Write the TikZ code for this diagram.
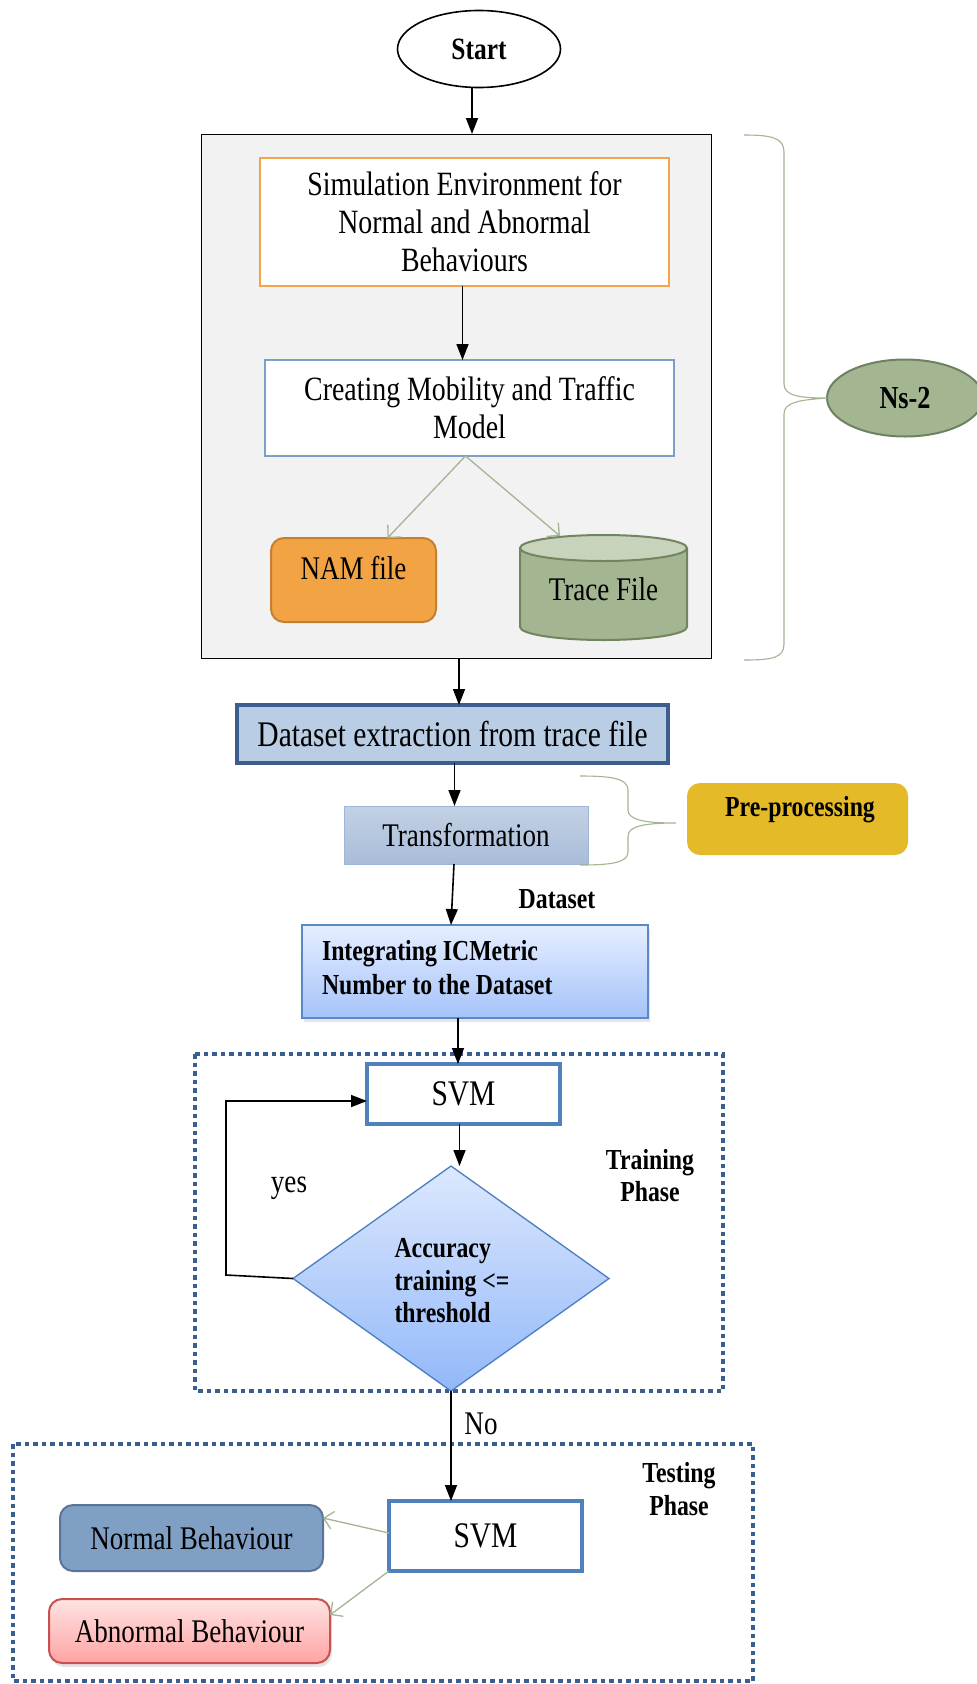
\documentclass[tikz,border=0pt]{standalone}
\usepackage{fontspec}
\setmainfont{Liberation Serif}[FakeStretch=0.82]
\usetikzlibrary{arrows.meta,shapes.geometric,shadows}
\definecolor{grayF}{HTML}{F2F2F2}
\definecolor{orangeB}{HTML}{F6A44B}
\definecolor{lblueB}{HTML}{7E9DC9}
\definecolor{greenL}{HTML}{A3B592}
\definecolor{namF}{HTML}{F2A444}
\definecolor{namB}{HTML}{C47F33}
\definecolor{trF}{HTML}{A4B592}
\definecolor{trTop}{HTML}{C8D3BC}
\definecolor{trB}{HTML}{72855F}
\definecolor{nsF}{HTML}{A4B592}
\definecolor{nsB}{HTML}{6E8262}
\definecolor{dsF}{HTML}{B9CDE5}
\definecolor{dsB}{HTML}{3C5E8E}
\definecolor{transT}{HTML}{C3D1E4}
\definecolor{transBo}{HTML}{A9BCD8}
\definecolor{transB}{HTML}{9DB5D6}
\definecolor{ppF}{HTML}{E5BA29}
\definecolor{integT}{HTML}{E6EEFF}
\definecolor{integBo}{HTML}{A5C3FA}
\definecolor{integB}{HTML}{5B88C6}
\definecolor{dashC}{HTML}{3A5F8F}
\definecolor{svmB}{HTML}{4F81BD}
\definecolor{diaT}{HTML}{DDE8FE}
\definecolor{diaBo}{HTML}{92B8F9}
\definecolor{diaB}{HTML}{4A7EC0}
\definecolor{normF}{HTML}{7F9FC5}
\definecolor{normB}{HTML}{5A7599}
\definecolor{abnT}{HTML}{FFE3E3}
\definecolor{abnBo}{HTML}{FFA3A3}
\definecolor{abnB}{HTML}{C9504E}
\newcommand{\fR}{\fontsize{33}{38}\selectfont}
\newcommand{\fB}{\fontsize{29}{33}\selectfont\bfseries}
\begin{document}
\begin{tikzpicture}[x=1pt,y=-1pt,
  every node/.style={inner sep=0pt, outer sep=0pt},
  blk/.style={draw=black, line width=1.6pt, -{Triangle[length=16pt,width=12pt]}},
  grn/.style={draw=greenL, line width=1.3pt, -{Straight Barb[length=9pt,width=18pt]}},
  dots/.style={draw=dashC, line width=4.5pt, dash pattern=on 4.5pt off 4pt},
  brc/.style={draw=greenL, line width=1.1pt},
  lbl/.style={font=\fR, align=center},
  bl/.style={font=\fB, align=center},
  shd/.style={drop shadow={opacity=0.2, shadow xshift=2pt, shadow yshift=-4pt}}]
\path[use as bounding box] (0,0) rectangle (977,1684);
\fill[white] (0,0) rectangle (977,1684);

% dotted phase boxes
\draw[dots] (195,1054) rectangle (723,1391);
\draw[dots] (13,1444) rectangle (753,1681);

% start
\node[ellipse, draw=black, line width=1.6pt, minimum width=163pt, minimum height=77pt,
      font=\fontsize{31}{34}\selectfont\bfseries] (start) at (479,49) {Start};

% Ns-2 group
\node[draw=black, line width=1pt, fill=grayF, minimum width=510pt, minimum height=524pt] (ns) at (456,396) {};
\node[draw=orangeB, line width=2pt, fill=white, minimum width=409pt, minimum height=128pt, font=\fontsize{34}{38}\selectfont, align=center] (sim) at (464.5,222)
  {Simulation Environment for\\Normal and Abnormal\\Behaviours};
\node[draw=lblueB, line width=2pt, fill=white, minimum width=409pt, minimum height=96pt, font=\fontsize{34}{38}\selectfont, align=center] (creat) at (469.5,408)
  {Creating Mobility and Traffic\\Model};
\node[draw=namB, line width=2pt, fill=namF, rounded corners=13pt, minimum width=165pt, minimum height=84pt] (nam) at (353.5,580) {};
\node[lbl] (namt) at (353.5,568) {NAM file};
% cylinder
\fill[trF] (520,548) -- (520,627) arc[start angle=180, end angle=360, x radius=83.5pt, y radius=13pt] -- (687,548) -- cycle;
\draw[trB, line width=2pt] (520,548) -- (520,627) arc[start angle=180, end angle=360, x radius=83.5pt, y radius=13pt] -- (687,548);
\draw[trB, line width=2pt, fill=trTop] (603.5,548) ellipse [x radius=83.5pt, y radius=13pt];
\node[lbl] (trace) at (603.5,589) {Trace File};
\coordinate (tracetop) at (560,536);

% Ns-2 brace and label
\node[ellipse, draw=nsB, line width=2pt, fill=nsF, minimum width=156pt, minimum height=77pt,
      font=\fontsize{32}{34}\selectfont\bfseries] (ns2) at (905,398) {Ns-2};
\draw[brc] (744,135) .. controls (772,135) and (784,138) .. (784,152) -- (784,384)
  .. controls (784,396) and (800,398) .. (ns2.west)
  .. controls (800,400) and (784,402) .. (784,414) -- (784,644)
  .. controls (784,658) and (772,660) .. (744,660);

% dataset extraction, transformation
\node[draw=dsB, line width=4pt, fill=dsF, minimum width=431pt, minimum height=58pt, font=\fontsize{36}{38}\selectfont] (ds) at (452.5,734)
  {Dataset extraction from trace file};
\node[draw=transB, line width=1pt, top color=transT, bottom color=transBo, minimum width=244pt, minimum height=58pt, lbl] (trans) at (466,835)
  {Transformation};

% pre-processing
\node[fill=ppF, rounded corners=13pt, minimum width=221pt, minimum height=72pt] (pp) at (797.5,819) {};
\node[bl] (ppt) at (800,810) {Pre-processing};
\draw[brc] (580,776) .. controls (610,776) and (628,778) .. (628,790) -- (628,810)
  .. controls (628,820) and (645,823) .. (676,823)
  .. controls (645,823) and (628,826) .. (628,836) -- (628,852)
  .. controls (628,863) and (610,865) .. (580,865);

\node[bl] (dslbl) at (557,899) {Dataset};

% integrating
\node[shd, draw=integB, line width=1.5pt, top color=integT, bottom color=integBo, minimum width=346pt, minimum height=93pt] (integ) at (475,971.5) {};
\node[anchor=west, align=left, font=\fontsize{29}{34}\selectfont\bfseries] (integt) at (322,968)
  {Integrating ICMetric\\Number to the Dataset};

% training phase
\node[draw=svmB, line width=4.5pt, fill=white, minimum width=193pt, minimum height=60pt,
      font=\fontsize{36}{38}\selectfont] (svm1) at (463.5,1094) {SVM};
\node[diamond, draw=diaB, line width=1.3pt, top color=diaT, bottom color=diaBo,
      minimum width=316pt, minimum height=225pt] (dia) at (451,1278.5) {};
\node[align=left, font=\fontsize{29}{32.5}\selectfont\bfseries] (diat) at (452,1281) {Accuracy\\training <=\\threshold};
\node[lbl] (yes) at (289,1188) {yes};
\node[font=\fontsize{29}{32}\selectfont\bfseries, align=center] (trp) at (650,1176) {Training\\Phase};
\node[lbl] (no) at (481,1424) {No};

% testing phase
\node[font=\fontsize{29}{33}\selectfont\bfseries, align=center] (tsp) at (679,1489) {Testing\\Phase};
\node[draw=svmB, line width=4.5pt, fill=white, minimum width=193pt, minimum height=70pt,
      font=\fontsize{36}{38}\selectfont] (svm2) at (485.5,1536) {SVM};
\node[draw=normB, line width=2pt, fill=normF, rounded corners=13pt, minimum width=263pt, minimum height=66pt, lbl] (normal) at (191.5,1538)
  {Normal Behaviour};
\node[shd, draw=abnB, line width=2pt, top color=abnT, bottom color=abnBo, rounded corners=13pt, minimum width=281pt, minimum height=64pt, lbl] (abn) at (189.5,1631)
  {Abnormal Behaviour};

% connectors
\draw[blk] ([xshift=-7pt]start.south) -- ([xshift=-7pt]start.south |- ns.north);
\draw[blk] ([xshift=-2pt]sim.south) -- ([xshift=-2pt]sim.south |- creat.north);
\draw[grn] ([xshift=-4pt]creat.south) -- ([xshift=34pt]nam.north);
\draw[grn] ([xshift=-4pt]creat.south) -- (tracetop);
\draw[blk] ([xshift=3pt]ns.south) -- ([xshift=3pt]ns.south |- ds.north);
\draw[blk] ([xshift=2pt]ds.south) -- ([xshift=2pt]ds.south |- trans.north);
\draw[blk] ([xshift=-12pt]trans.south) -- ([xshift=-24pt]integ.north);
\draw[blk] ([xshift=-17pt]integ.south) -- ([xshift=-17pt]integ.south |- svm1.north);
\draw[blk] ([xshift=-4pt]svm1.south) -- ([xshift=-4pt]svm1.south |- dia.north);
\draw[line width=1.6pt, -{Triangle[length=16pt,width=12pt]}] (dia.west) -- (226,1275) -- (226,1101) -- ([yshift=-7pt]svm1.west);
\draw[blk] (dia.south) -- (dia.south |- svm2.north);
\draw[grn] ([yshift=3pt]svm2.west) -- ([yshift=20pt]normal.east);
\draw[grn] (svm2.south west) -- ([yshift=16pt]abn.east);
\end{tikzpicture}
\end{document}
